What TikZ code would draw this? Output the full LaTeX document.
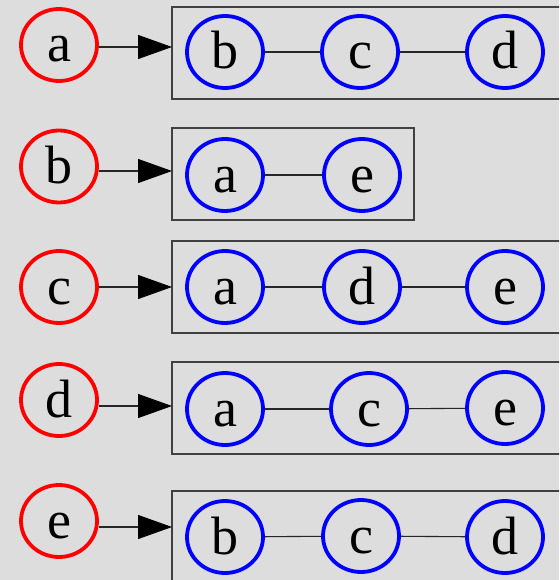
\documentclass[tikz,border=0pt]{standalone}
\usepackage{fontspec}
\setmainfont{Liberation Serif}
\usetikzlibrary{shapes.geometric,arrows.meta}
\definecolor{bg}{HTML}{DDDDDD}
\tikzset{
  vert/.style={ellipse, inner sep=0pt, minimum width=76pt, minimum height=72pt,
    line width=3.8pt, font=\fontsize{54}{54}\selectfont, text height=34pt, text depth=0pt},
  head/.style={vert, draw=red},
  nbr/.style={vert, draw=blue},
  listbox/.style={draw=black!75, line width=1.1pt},
  link/.style={draw=black!85, line width=1.1pt},
  ptr/.style={draw=black!85, line width=1.1pt, -{Triangle[length=34pt,width=24pt,fill=black,color=black]}}
}
\begin{document}
\begin{tikzpicture}[x=1pt,y=-1pt]
  \fill[bg] (0,0) rectangle (559,580);
  \useasboundingbox (0,0) rectangle (559,580);
  \clip (0,0) rectangle (559,580);

  % adjacency list boxes
  \draw[listbox] (172,7) rectangle (600,99);
  \draw[listbox] (172,128) rectangle (414,220);
  \draw[listbox] (172,241) rectangle (600,333);
  \draw[listbox] (172,362) rectangle (600,454);
  \draw[listbox] (172,491) rectangle (600,620);

  % head vertices
  \node[head] (ha) at (59,45) {a};
  \node[head] (hb) at (59,166.5) {b};
  \node[head] (hc) at (59,287) {c};
  \node[head] (hd) at (59,400) {d};
  \node[head] (he) at (59,521) {e};

  % pointer targets on the box edges
  \coordinate (ta) at (172,47);
  \coordinate (tb) at (172,171);
  \coordinate (tc) at (172,287);
  \coordinate (td) at (172,406);
  \coordinate (te) at (172,527);

  \draw[ptr] (ta -| ha.east) -- (ta);
  \draw[ptr] (tb -| hb.east) -- (tb);
  \draw[ptr] (tc -| hc.east) -- (tc);
  \draw[ptr] (td -| hd.east) -- (td);
  \draw[ptr] (te -| he.east) -- (te);

  % neighbours of a
  \node[nbr] (a1) at (225,52) {b};
  \node[nbr] (a2) at (360,52) {c};
  \node[nbr] (a3) at (505,52) {d};
  \draw[link] (a1) -- (a2);
  \draw[link] (a2) -- (a3);

  % neighbours of b
  \node[nbr] (b1) at (225,175) {a};
  \node[nbr] (b2) at (362,175) {e};
  \draw[link] (b1) -- (b2);

  % neighbours of c
  \node[nbr] (c1) at (225,287) {a};
  \node[nbr] (c2) at (362,287) {d};
  \node[nbr] (c3) at (505,287) {e};
  \draw[link] (c1) -- (c2);
  \draw[link] (c2) -- (c3);

  % neighbours of d
  \node[nbr] (d1) at (225,409) {a};
  \node[nbr] (d2) at (369,409) {c};
  \node[nbr] (d3) at (505,408) {e};
  \draw[link] (d1) -- (d2);
  \draw[link] (d2) -- (d3);

  % neighbours of e
  \node[nbr] (e1) at (225,537) {b};
  \node[nbr] (e2) at (361,536) {c};
  \node[nbr] (e3) at (505,537) {d};
  \draw[link] (e1) -- (e2);
  \draw[link] (e2) -- (e3);
\end{tikzpicture}
\end{document}
